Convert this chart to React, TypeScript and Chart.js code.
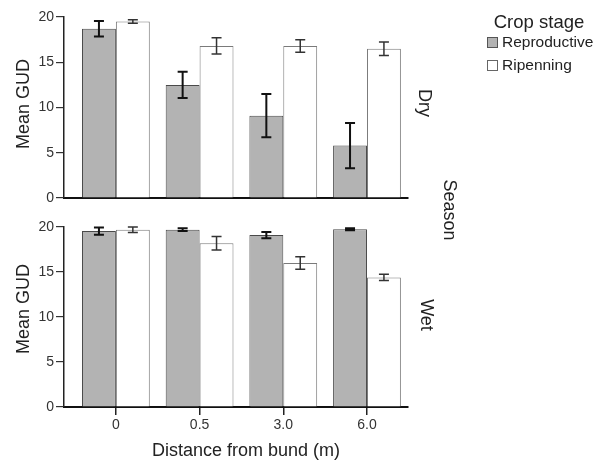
import React, { useEffect, useRef } from "react";
import { Chart, registerables } from "chart.js";

Chart.register(...registerables);

const categories = ["0", "0.5", "3.0", "6.0"];
const yTicks = [0, 5, 10, 15, 20];

const dryReproductive = [18.7, 12.5, 9.1, 5.8];
const dryReproductiveErr = [0.85, 1.45, 2.4, 2.5];
const dryRipenning = [19.5, 16.8, 16.8, 16.5];
const dryRipenningErr = [0.2, 0.9, 0.7, 0.75];

const wetReproductive = [19.55, 19.7, 19.1, 19.75];
const wetReproductiveErr = [0.4, 0.15, 0.35, 0.1];
const wetRipenning = [19.7, 18.2, 16.0, 14.4];
const wetRipenningErr = [0.3, 0.75, 0.7, 0.35];

const FONT = "'Liberation Sans', Arial, Helvetica, sans-serif";
const GRAY = "#b3b3b3";

const errorBarPlugin = {
  id: "errorBars",
  afterDatasetsDraw(chart: any) {
    const { ctx } = chart;
    const y = chart.scales.y;
    chart.data.datasets.forEach((ds: any, di: number) => {
      const meta = chart.getDatasetMeta(di);
      meta.data.forEach((bar: any, i: number) => {
        const v = ds.data[i].y;
        const e = ds.errors[i];
        const top = y.getPixelForValue(v + e);
        const bot = y.getPixelForValue(v - e);
        const x = bar.x;
        ctx.save();
        ctx.strokeStyle = ds.errColor;
        ctx.lineWidth = ds.errWidth;
        ctx.beginPath();
        ctx.moveTo(x, top);
        ctx.lineTo(x, bot);
        ctx.moveTo(x - 5, top);
        ctx.lineTo(x + 5, top);
        ctx.moveTo(x - 5, bot);
        ctx.lineTo(x + 5, bot);
        ctx.stroke();
        ctx.restore();
      });
    });
  },
};

function makeConfig(
  repro: number[],
  reproErr: number[],
  ripen: number[],
  ripenErr: number[],
  showX: boolean
): any {
  return {
    type: "bar",
    data: {
      datasets: [
        {
          label: "Reproductive",
          data: repro.map((v, i) => ({ x: i, y: v })),
          errors: reproErr,
          errColor: "#111",
          errWidth: 2,
          backgroundColor: GRAY,
          borderColor: "#4a4a4a",
          borderWidth: 1,
          borderSkipped: "bottom",
          categoryPercentage: 0.81,
          barPercentage: 1,
        },
        {
          label: "Ripenning",
          data: ripen.map((v, i) => ({ x: i, y: v })),
          errors: ripenErr,
          errColor: "#333",
          errWidth: 1.5,
          backgroundColor: "#ffffff",
          borderColor: "#7a7a7a",
          borderWidth: 1,
          borderSkipped: "bottom",
          categoryPercentage: 0.81,
          barPercentage: 1,
        },
      ],
    },
    options: {
      animation: false,
      responsive: false,
      maintainAspectRatio: false,
      layout: { padding: { left: 0, top: 17, right: 190, bottom: showX ? 0 : 12 } },
      plugins: { legend: { display: false }, tooltip: { enabled: false } },
      scales: {
        x: {
          type: "linear",
          offset: false,
          min: -0.62,
          max: 3.49,
          afterBuildTicks: (s: any) => {
            s.ticks = categories.map((_, i) => ({ value: i }));
          },
          afterFit: (s: any) => {
            s.height = showX ? 53 : 0;
          },
          ticks: {
            display: showX,
            padding: 2,
            color: "#333",
            font: { family: FONT, size: 14 },
            callback: (v: number) => categories[v] ?? "",
            autoSkip: false,
            maxRotation: 0,
          },
          grid: {
            display: true,
            offset: false,
            drawOnChartArea: false,
            drawTicks: showX,
            tickLength: 8,
            color: "#222",
            lineWidth: 1.5,
          },
          border: { display: true, color: "#111", width: 2 },
        },
        y: {
          min: 0,
          max: 20,
          afterBuildTicks: (s: any) => {
            s.ticks = yTicks.map((v) => ({ value: v }));
          },
          afterFit: (s: any) => {
            s.width = 64;
          },
          ticks: {
            padding: 2,
            color: "#333",
            font: { family: FONT, size: 14 },
          },
          grid: {
            display: true,
            drawOnChartArea: false,
            drawTicks: true,
            tickLength: 8,
            color: "#333",
            lineWidth: 1.2,
          },
          border: { display: true, color: "#222", width: 1.5 },
        },
      },
    },
    plugins: [errorBarPlugin],
  };
}

const textBase: React.CSSProperties = {
  position: "absolute",
  fontFamily: FONT,
  color: "#222",
  whiteSpace: "nowrap",
  lineHeight: 1,
};

function Rotated({ text, x, y, deg, size = 18 }: { text: string; x: number; y: number; deg: number; size?: number }) {
  return (
    <div
      style={{
        ...textBase,
        fontSize: size,
        left: x,
        top: y,
        transform: `translate(-50%, -50%) rotate(${deg}deg)`,
      }}
    >
      {text}
    </div>
  );
}

export default function App() {
  const topRef = useRef<HTMLCanvasElement>(null);
  const botRef = useRef<HTMLCanvasElement>(null);

  useEffect(() => {
    const c1 = new Chart(
      topRef.current!,
      makeConfig(dryReproductive, dryReproductiveErr, dryRipenning, dryRipenningErr, false)
    );
    const c2 = new Chart(
      botRef.current!,
      makeConfig(wetReproductive, wetReproductiveErr, wetRipenning, wetRipenningErr, true)
    );
    return () => {
      c1.destroy();
      c2.destroy();
    };
  }, []);

  return (
    <div style={{ position: "absolute", left: 0, top: 0, width: 598, height: 460, background: "#fff", overflow: "hidden" }}>
      <canvas ref={topRef} width={598} height={210} style={{ position: "absolute", left: 0, top: 0, width: 598, height: 210 }} />
      <canvas ref={botRef} width={598} height={250} style={{ position: "absolute", left: 0, top: 210, width: 598, height: 250 }} />

      <Rotated text="Mean GUD" x={23} y={104} deg={-90} />
      <Rotated text="Mean GUD" x={23} y={309} deg={-90} />
      <Rotated text="Dry" x={425} y={103} deg={90} />
      <Rotated text="Wet" x={427} y={315} deg={90} />
      <Rotated text="Season" x={450} y={210} deg={90} />
      <Rotated text="Distance from bund (m)" x={246} y={450} deg={0} />

      <Rotated text="Crop stage" x={539} y={22} deg={0} size={18.5} />
      <div style={{ position: "absolute", left: 487, top: 37, width: 9, height: 9, background: GRAY, border: "1px solid #555" }} />
      <div style={{ ...textBase, fontSize: 15.5, left: 502, top: 42, transform: "translateY(-50%)" }}>Reproductive</div>
      <div style={{ position: "absolute", left: 487, top: 60, width: 9, height: 9, background: "#fff", border: "1px solid #666" }} />
      <div style={{ ...textBase, fontSize: 15.5, left: 502, top: 65, transform: "translateY(-50%)" }}>Ripenning</div>
    </div>
  );
}
